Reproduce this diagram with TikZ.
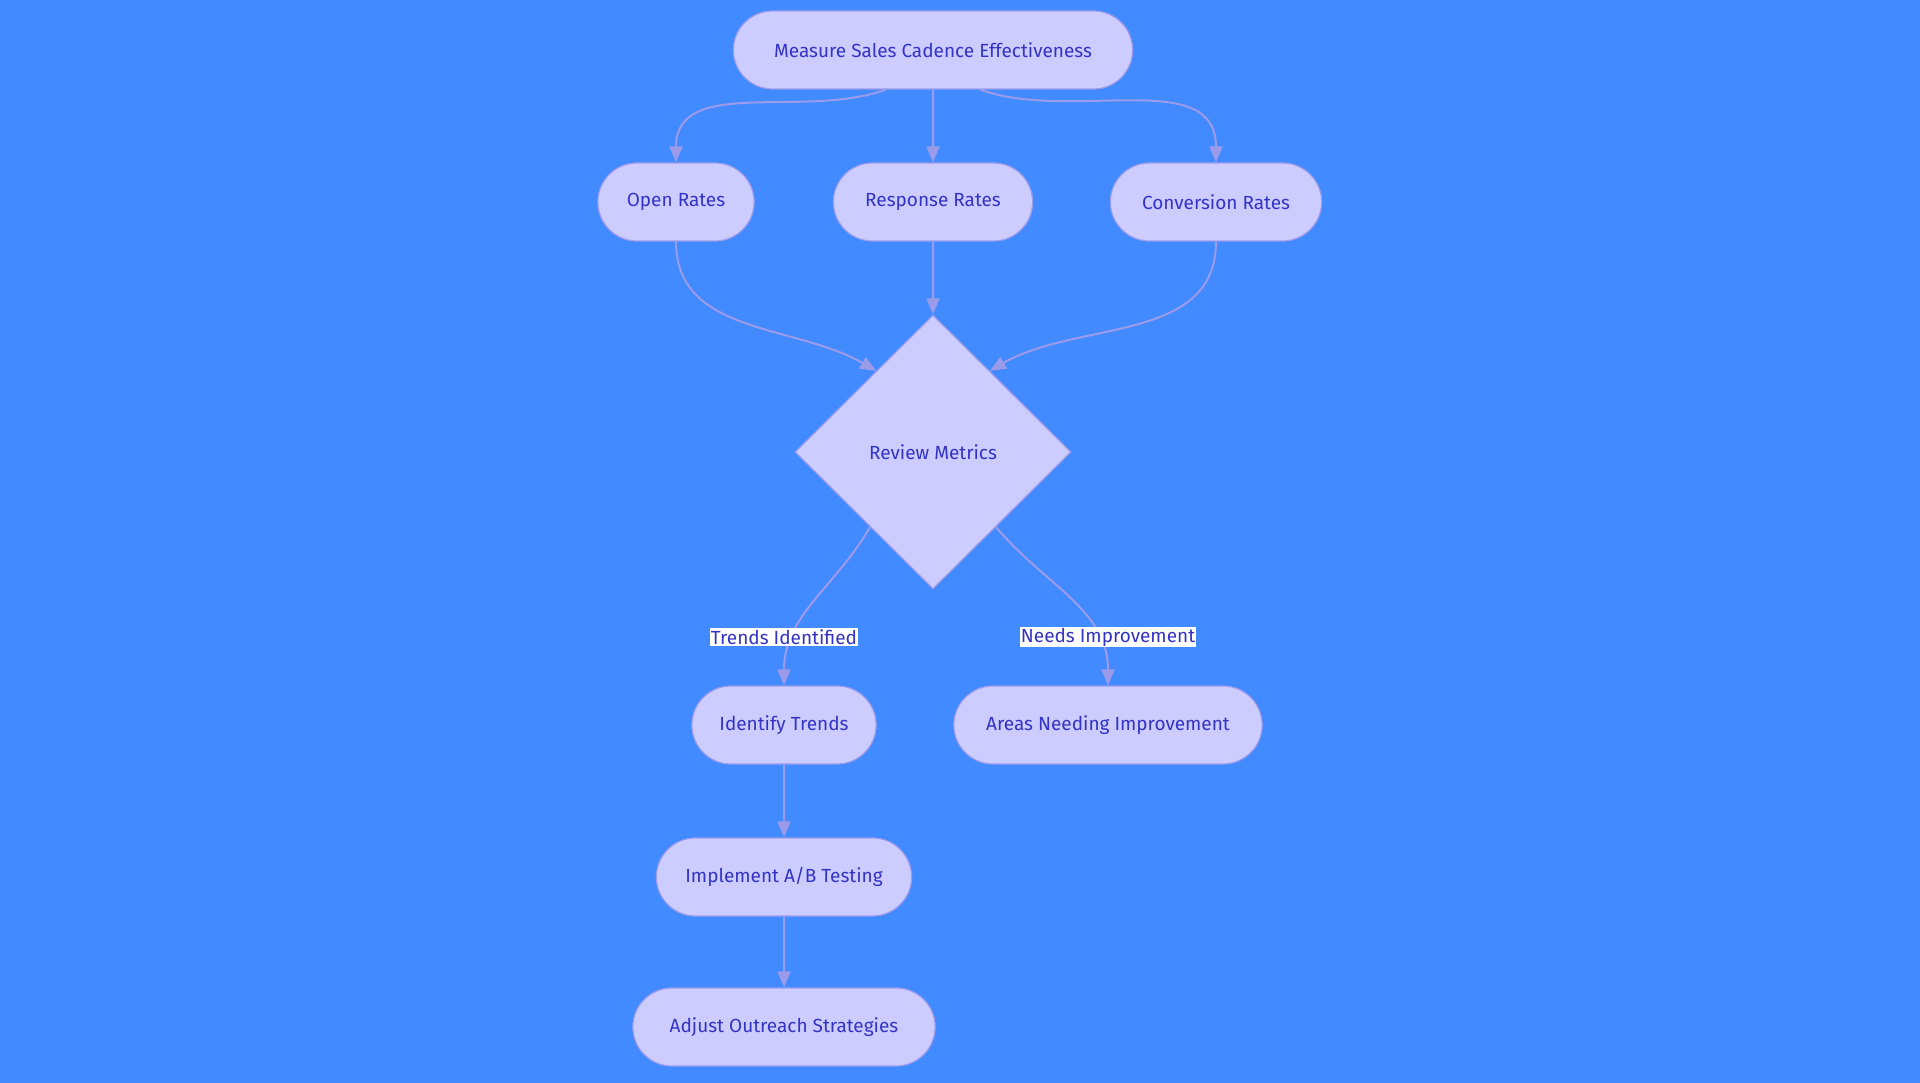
\documentclass[tikz,border=0pt]{standalone}
\usepackage{fontspec}
\setmainfont{Fira Sans}
\usetikzlibrary{shapes.geometric,shapes.misc,arrows.meta}
\definecolor{bgblue}{HTML}{418AFF}
\definecolor{boxfill}{HTML}{CCCCFF}
\definecolor{edgecol}{HTML}{9B9BEA}
\definecolor{txtcol}{HTML}{3333C4}
\tikzset{
  pill/.style={draw=edgecol, fill=boxfill, rounded rectangle, minimum height=78pt,
    text=txtcol, font=\fontsize{19}{22}\selectfont, line width=1.2pt},
  decide/.style={draw=edgecol, fill=boxfill, diamond, minimum width=276pt, minimum height=274pt,
    text=txtcol, font=\fontsize{19}{22}\selectfont, line width=1.2pt},
  flow/.style={draw=edgecol, line width=2pt, -{Triangle[length=16pt,width=13pt]}},
  tag/.style={fill=white, text=txtcol, font=\fontsize{19}{22}\selectfont, inner sep=1pt}
}
\begin{document}
\begin{tikzpicture}[x=1pt,y=-1pt]
  \fill[bgblue] (0,0) rectangle (1920,1083);
  \useasboundingbox (0,0) rectangle (1920,1083);

  %% nodes %%
  \node (measure) at (933,50) [pill, minimum width=406pt] {Measure Sales Cadence Effectiveness};
  \node (open) at (676,202) [pill, minimum width=163pt] {Open Rates};
  \node (resp) at (933,202) [pill, minimum width=206pt] {Response Rates};
  \node (conv) at (1216,202) [pill, minimum width=218pt] {Conversion Rates};
  \node (review) at (933,452) [decide] {Review Metrics};
  \node (trends) at (784,725) [pill, minimum width=191pt] {Identify Trends};
  \node (areas) at (1108,725) [pill, minimum width=315pt] {Areas Needing Improvement};
  \node (abtest) at (784,877) [pill, minimum width=262pt] {Implement A/B Testing};
  \node (adjust) at (784,1027) [pill, minimum width=309pt] {Adjust Outreach Strategies};

  \draw[flow] (measure.220) to[out=-160,in=90] (open.north);
  \draw[flow] (measure) to (resp);
  \draw[flow] (measure.-40) to[out=-20,in=90] (conv.north);
  \draw[flow] (open.south) to[out=-90,in=150] (review.125);
  \draw[flow] (resp) to (review);
  \draw[flow] (conv.south) to[out=-90,in=30] (review.55);
  \draw[flow] (review.-130) to[out=-120,in=90] (trends.north);
  \draw[flow] (review.-50) to[out=-50,in=90] (areas.north);
  \draw[flow] (trends) to (abtest);
  \draw[flow] (abtest) to (adjust);

  \node (lbltrends) at (784,637) [tag] {Trends Identified};
  \node (lblneeds) at (1108,637) [tag] {Needs Improvement};
\end{tikzpicture}
\end{document}
